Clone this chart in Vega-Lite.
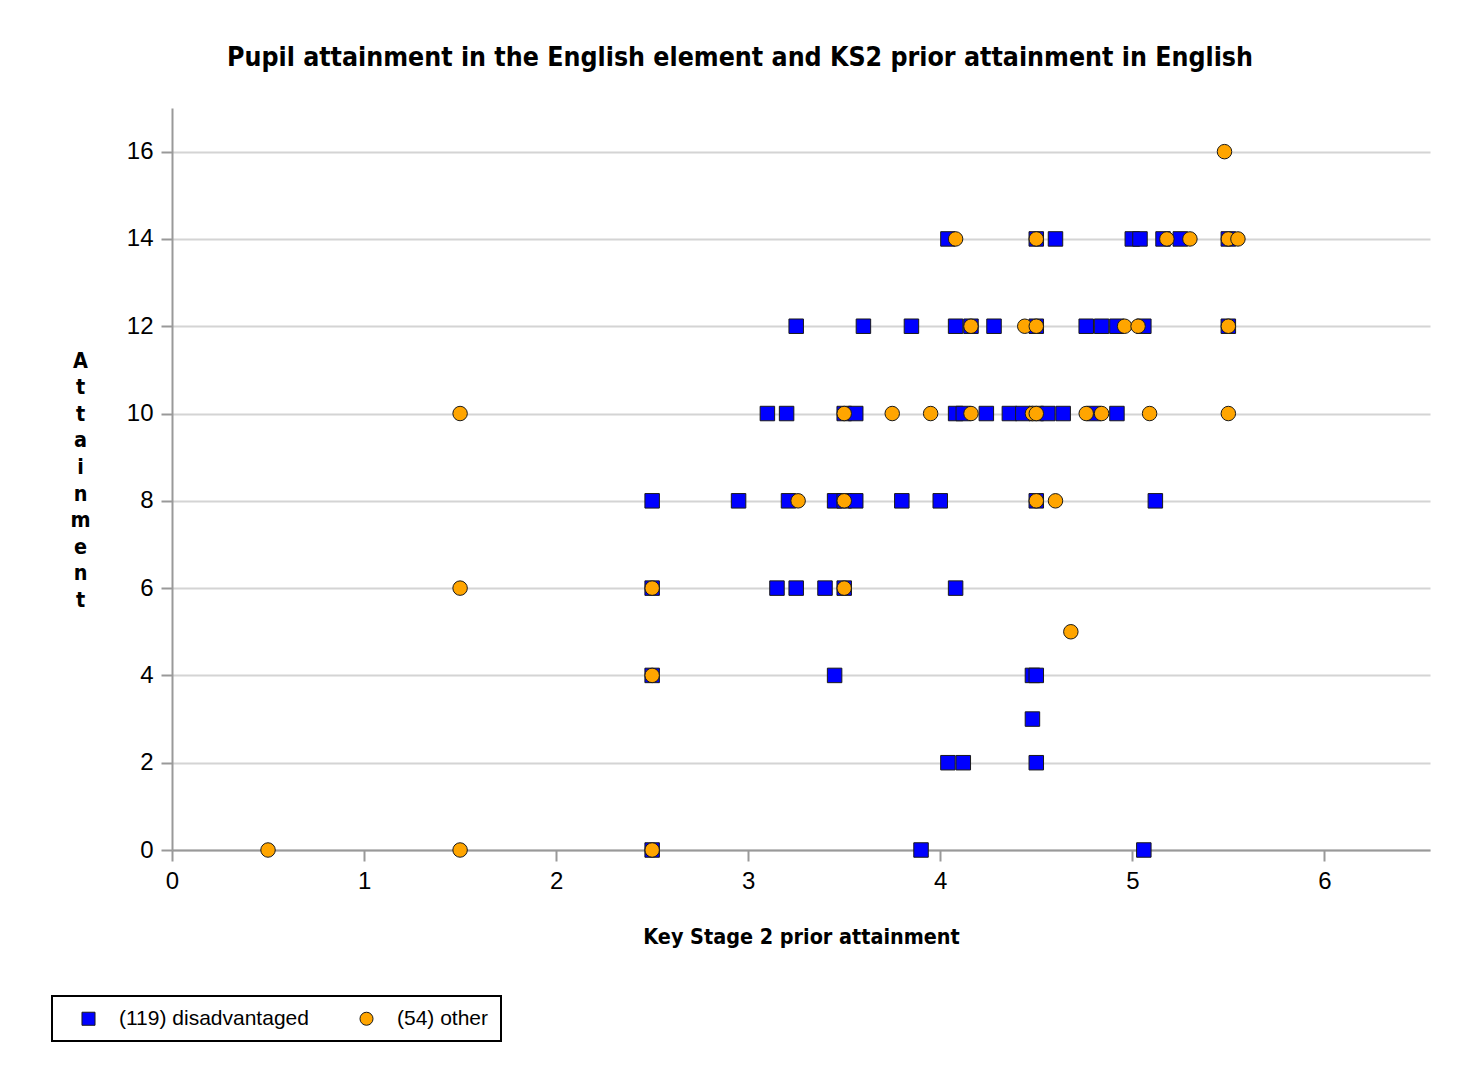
{
  "$schema": "https://vega.github.io/schema/vega-lite/v6.json",
  "autosize": "none",
  "width": 1258,
  "height": 742,
  "padding": {"left": 172, "top": 108, "right": 44, "bottom": 220},
  "background": "white",
  "title": {
    "text": "Pupil attainment in the English element and KS2 prior attainment in English",
    "font": "DejaVu Sans Condensed",
    "fontWeight": "bold",
    "fontSize": 26.5,
    "color": "black",
    "anchor": "middle",
    "dx": -61,
    "offset": 37
  },
  "data": {
    "values": [
      {"ks": 2.5, "att": 0, "group": "(119) disadvantaged"},
      {"ks": 3.9, "att": 0, "group": "(119) disadvantaged"},
      {"ks": 5.06, "att": 0, "group": "(119) disadvantaged"},
      {"ks": 4.04, "att": 2, "group": "(119) disadvantaged"},
      {"ks": 4.12, "att": 2, "group": "(119) disadvantaged"},
      {"ks": 4.5, "att": 2, "group": "(119) disadvantaged"},
      {"ks": 4.48, "att": 3, "group": "(119) disadvantaged"},
      {"ks": 2.5, "att": 4, "group": "(119) disadvantaged"},
      {"ks": 3.45, "att": 4, "group": "(119) disadvantaged"},
      {"ks": 4.48, "att": 4, "group": "(119) disadvantaged"},
      {"ks": 4.5, "att": 4, "group": "(119) disadvantaged"},
      {"ks": 2.5, "att": 6, "group": "(119) disadvantaged"},
      {"ks": 3.15, "att": 6, "group": "(119) disadvantaged"},
      {"ks": 3.25, "att": 6, "group": "(119) disadvantaged"},
      {"ks": 3.4, "att": 6, "group": "(119) disadvantaged"},
      {"ks": 3.5, "att": 6, "group": "(119) disadvantaged"},
      {"ks": 4.08, "att": 6, "group": "(119) disadvantaged"},
      {"ks": 2.5, "att": 8, "group": "(119) disadvantaged"},
      {"ks": 2.95, "att": 8, "group": "(119) disadvantaged"},
      {"ks": 3.21, "att": 8, "group": "(119) disadvantaged"},
      {"ks": 3.45, "att": 8, "group": "(119) disadvantaged"},
      {"ks": 3.5, "att": 8, "group": "(119) disadvantaged"},
      {"ks": 3.56, "att": 8, "group": "(119) disadvantaged"},
      {"ks": 3.8, "att": 8, "group": "(119) disadvantaged"},
      {"ks": 4.0, "att": 8, "group": "(119) disadvantaged"},
      {"ks": 4.5, "att": 8, "group": "(119) disadvantaged"},
      {"ks": 5.12, "att": 8, "group": "(119) disadvantaged"},
      {"ks": 3.1, "att": 10, "group": "(119) disadvantaged"},
      {"ks": 3.2, "att": 10, "group": "(119) disadvantaged"},
      {"ks": 3.5, "att": 10, "group": "(119) disadvantaged"},
      {"ks": 3.56, "att": 10, "group": "(119) disadvantaged"},
      {"ks": 4.08, "att": 10, "group": "(119) disadvantaged"},
      {"ks": 4.12, "att": 10, "group": "(119) disadvantaged"},
      {"ks": 4.24, "att": 10, "group": "(119) disadvantaged"},
      {"ks": 4.36, "att": 10, "group": "(119) disadvantaged"},
      {"ks": 4.43, "att": 10, "group": "(119) disadvantaged"},
      {"ks": 4.5, "att": 10, "group": "(119) disadvantaged"},
      {"ks": 4.56, "att": 10, "group": "(119) disadvantaged"},
      {"ks": 4.64, "att": 10, "group": "(119) disadvantaged"},
      {"ks": 4.8, "att": 10, "group": "(119) disadvantaged"},
      {"ks": 4.92, "att": 10, "group": "(119) disadvantaged"},
      {"ks": 3.25, "att": 12, "group": "(119) disadvantaged"},
      {"ks": 3.6, "att": 12, "group": "(119) disadvantaged"},
      {"ks": 3.85, "att": 12, "group": "(119) disadvantaged"},
      {"ks": 4.08, "att": 12, "group": "(119) disadvantaged"},
      {"ks": 4.16, "att": 12, "group": "(119) disadvantaged"},
      {"ks": 4.28, "att": 12, "group": "(119) disadvantaged"},
      {"ks": 4.5, "att": 12, "group": "(119) disadvantaged"},
      {"ks": 4.76, "att": 12, "group": "(119) disadvantaged"},
      {"ks": 4.84, "att": 12, "group": "(119) disadvantaged"},
      {"ks": 4.92, "att": 12, "group": "(119) disadvantaged"},
      {"ks": 5.06, "att": 12, "group": "(119) disadvantaged"},
      {"ks": 5.5, "att": 12, "group": "(119) disadvantaged"},
      {"ks": 4.04, "att": 14, "group": "(119) disadvantaged"},
      {"ks": 4.5, "att": 14, "group": "(119) disadvantaged"},
      {"ks": 4.6, "att": 14, "group": "(119) disadvantaged"},
      {"ks": 5.0, "att": 14, "group": "(119) disadvantaged"},
      {"ks": 5.04, "att": 14, "group": "(119) disadvantaged"},
      {"ks": 5.16, "att": 14, "group": "(119) disadvantaged"},
      {"ks": 5.25, "att": 14, "group": "(119) disadvantaged"},
      {"ks": 5.5, "att": 14, "group": "(119) disadvantaged"},
      {"ks": 0.5, "att": 0, "group": "(54) other"},
      {"ks": 1.5, "att": 0, "group": "(54) other"},
      {"ks": 2.5, "att": 0, "group": "(54) other"},
      {"ks": 2.5, "att": 4, "group": "(54) other"},
      {"ks": 4.68, "att": 5, "group": "(54) other"},
      {"ks": 1.5, "att": 6, "group": "(54) other"},
      {"ks": 2.5, "att": 6, "group": "(54) other"},
      {"ks": 3.5, "att": 6, "group": "(54) other"},
      {"ks": 3.26, "att": 8, "group": "(54) other"},
      {"ks": 3.5, "att": 8, "group": "(54) other"},
      {"ks": 4.5, "att": 8, "group": "(54) other"},
      {"ks": 4.6, "att": 8, "group": "(54) other"},
      {"ks": 1.5, "att": 10, "group": "(54) other"},
      {"ks": 3.5, "att": 10, "group": "(54) other"},
      {"ks": 3.75, "att": 10, "group": "(54) other"},
      {"ks": 3.95, "att": 10, "group": "(54) other"},
      {"ks": 4.16, "att": 10, "group": "(54) other"},
      {"ks": 4.48, "att": 10, "group": "(54) other"},
      {"ks": 4.5, "att": 10, "group": "(54) other"},
      {"ks": 4.76, "att": 10, "group": "(54) other"},
      {"ks": 4.84, "att": 10, "group": "(54) other"},
      {"ks": 5.09, "att": 10, "group": "(54) other"},
      {"ks": 5.5, "att": 10, "group": "(54) other"},
      {"ks": 4.16, "att": 12, "group": "(54) other"},
      {"ks": 4.44, "att": 12, "group": "(54) other"},
      {"ks": 4.5, "att": 12, "group": "(54) other"},
      {"ks": 4.96, "att": 12, "group": "(54) other"},
      {"ks": 5.03, "att": 12, "group": "(54) other"},
      {"ks": 5.5, "att": 12, "group": "(54) other"},
      {"ks": 4.08, "att": 14, "group": "(54) other"},
      {"ks": 4.5, "att": 14, "group": "(54) other"},
      {"ks": 5.18, "att": 14, "group": "(54) other"},
      {"ks": 5.3, "att": 14, "group": "(54) other"},
      {"ks": 5.5, "att": 14, "group": "(54) other"},
      {"ks": 5.55, "att": 14, "group": "(54) other"},
      {"ks": 5.48, "att": 16, "group": "(54) other"}
    ]
  },
  "mark": {"type": "point", "filled": true, "stroke": "#1a1a1a", "strokeWidth": 1, "opacity": 1, "size": 210, "clip": false},
  "encoding": {
    "x": {
      "field": "ks",
      "type": "quantitative",
      "scale": {"domain": [0, 6.55], "nice": false, "zero": false},
      "axis": {
        "title": "Key Stage 2 prior attainment",
        "values": [0, 1, 2, 3, 4, 5, 6],
        "grid": false,
        "labelFlush": false,
        "titleY": 87,
        "titleBaseline": "middle",
        "titleX": 629
      }
    },
    "y": {
      "field": "att",
      "type": "quantitative",
      "scale": {"domain": [0, 17], "nice": false},
      "axis": {
        "title": ["A", "t", "t", "a", "i", "n", "m", "e", "n", "t"],
        "values": [0, 2, 4, 6, 8, 10, 12, 14, 16],
        "labelFlush": false,
        "titleAngle": 0,
        "titleX": -92,
        "titleY": 242,
        "titleAlign": "center",
        "titleBaseline": "top",
        "titleLineHeight": 26.6
      }
    },
    "shape": {
      "field": "group",
      "type": "nominal",
      "scale": {"domain": ["(119) disadvantaged", "(54) other"], "range": ["square", "circle"]},
      "legend": null
    },
    "color": {
      "field": "group",
      "type": "nominal",
      "scale": {"domain": ["(119) disadvantaged", "(54) other"], "range": ["#0000ff", "#ffa500"]},
      "legend": {
        "title": null,
        "orient": "none",
        "direction": "horizontal",
        "legendX": -120,
        "legendY": 888,
        "padding": 12,
        "strokeColor": "black",
        "symbolOffset": 14,
        "symbolSize": 170,
        "symbolStrokeColor": "#1a1a1a",
        "labelFont": "Liberation Sans",
        "labelFontSize": 21,
        "labelColor": "black",
        "labelOffset": 20,
        "labelLimit": 400,
        "columnPadding": 33
      }
    }
  },
  "config": {
    "view": {"stroke": null},
    "legend": {"strokeWidth": 2, "symbolStrokeWidth": 1},
    "axis": {
      "labelFont": "Liberation Sans",
      "labelFontSize": 24,
      "labelColor": "black",
      "titleFont": "DejaVu Sans Condensed",
      "titleFontWeight": "bold",
      "titleFontSize": 21.4,
      "titleColor": "black",
      "domainColor": "#999999",
      "domainWidth": 2,
      "tickColor": "#999999",
      "tickWidth": 2,
      "tickSize": 11,
      "labelPadding": 8,
      "gridColor": "#d4d4d4",
      "gridWidth": 2
    },
    "axisY": {"grid": true}
  }
}
